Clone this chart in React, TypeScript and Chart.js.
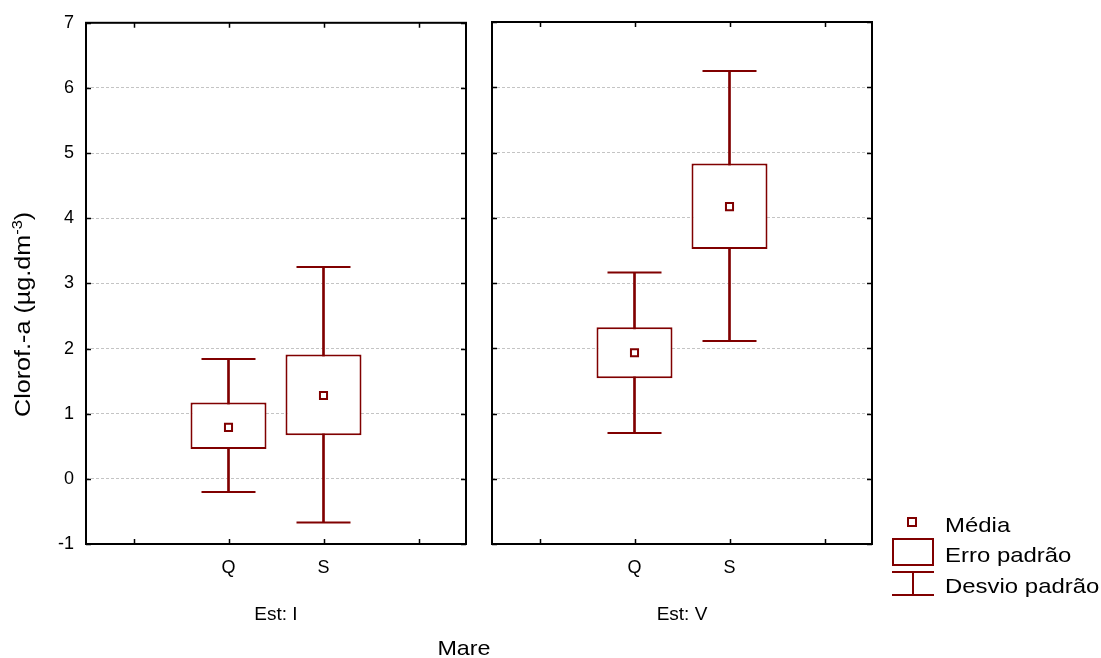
import React, { useEffect, useRef } from 'react';
import { Chart, registerables } from 'chart.js';

Chart.register(...registerables);

// ---------- data ----------
const categories = ['', 'Q', 'S', ''];
const panelTitles = ['Est: I', 'Est: V'];
const yMin = -1;
const yMax = 7;
const yStep = 1;

// Est: I
const meanI = [0.79, 1.28];
const seLowI = [0.46, 0.67];
const seHighI = [1.17, 1.91];
const sdLowI = [-0.2, -0.67];
const sdHighI = [1.84, 3.25];

// Est: V
const meanV = [1.93, 4.17];
const seLowV = [1.54, 3.52];
const seHighV = [2.32, 4.83];
const sdLowV = [0.7, 2.11];
const sdHighV = [3.16, 6.25];

const legendLabels = ['Média', 'Erro padrão', 'Desvio padrão'];
const xTitle = 'Mare';
const yTitleMain = 'Clorof.-a (µg.dm';
const yTitleSup = '-3';
const yTitleEnd = ')';

// ---------- styles ----------
const W = 1101;
const H = 658;
const RED = '#800000';
const FONT = "'Liberation Sans', Arial, sans-serif";

const pad = (arr: any[]) => [null, ...arr, null];

function drawScaledText(
  ctx: CanvasRenderingContext2D,
  text: string,
  x: number,
  y: number,
  size: number,
  align: CanvasTextAlign,
  sx: number
) {
  ctx.save();
  ctx.translate(x, y);
  ctx.scale(sx, 1);
  ctx.font = `${size}px ${FONT}`;
  ctx.textAlign = align;
  ctx.textBaseline = 'alphabetic';
  ctx.fillStyle = '#000';
  ctx.fillText(text, 0, 0);
  ctx.restore();
}

function makeDecor(panelTitle: string, first: boolean) {
  return {
    id: 'panelDecor',
    afterDraw(chart: any) {
      const { ctx, chartArea: a, scales } = chart;
      ctx.save();
      // frame
      ctx.strokeStyle = '#000';
      ctx.lineWidth = 2;
      ctx.strokeRect(a.left, a.top, a.right - a.left, a.bottom - a.top);
      // inner ticks
      ctx.lineWidth = 1.5;
      ctx.beginPath();
      const ys = scales.y;
      ys.ticks.forEach((t: any) => {
        const y = Math.round(ys.getPixelForValue(t.value)) + 0.5;
        ctx.moveTo(a.left, y);
        ctx.lineTo(a.left + 5, y);
        ctx.moveTo(a.right - 5, y);
        ctx.lineTo(a.right, y);
      });
      const xs = scales.x;
      categories.forEach((_, i) => {
        const x = Math.round(xs.getPixelForValue(i)) + 0.5;
        ctx.moveTo(x, a.bottom);
        ctx.lineTo(x, a.bottom - 5);
        ctx.moveTo(x, a.top);
        ctx.lineTo(x, a.top + 5);
      });
      ctx.stroke();

      // panel title
      drawScaledText(ctx, panelTitle, (a.left + a.right) / 2, 620, 19, 'center', 1);

      if (first) {
        // rotated y title with superscript
        ctx.save();
        ctx.translate(29.5, 417);
        ctx.rotate(-Math.PI / 2);
        ctx.scale(1.17, 1);
        ctx.fillStyle = '#000';
        ctx.textBaseline = 'alphabetic';
        ctx.textAlign = 'left';
        ctx.font = `21.5px ${FONT}`;
        ctx.fillText(yTitleMain, 0, 0);
        const w1 = ctx.measureText(yTitleMain).width;
        ctx.font = `14px ${FONT}`;
        ctx.fillText(yTitleSup, w1, -8);
        const w2 = ctx.measureText(yTitleSup).width;
        ctx.font = `21.5px ${FONT}`;
        ctx.fillText(yTitleEnd, w1 + w2, 0);
        ctx.restore();
      } else {
        // x title
        drawScaledText(ctx, xTitle, 464, 655, 21, 'center', 1.11);
        // legend
        ctx.strokeStyle = RED;
        ctx.lineWidth = 2;
        ctx.strokeRect(908, 518, 8, 8);
        ctx.strokeRect(893, 539, 40, 26);
        ctx.beginPath();
        ctx.moveTo(892, 572);
        ctx.lineTo(934, 572);
        ctx.moveTo(892, 595);
        ctx.lineTo(934, 595);
        ctx.moveTo(913, 572);
        ctx.lineTo(913, 595);
        ctx.stroke();
        const baselines = [531.5, 562, 592.5];
        legendLabels.forEach((t, i) => drawScaledText(ctx, t, 945, baselines[i], 21, 'left', 1.14));
      }
      ctx.restore();
    },
  };
}

function buildConfig(
  idx: number,
  mean: number[],
  seLow: number[],
  seHigh: number[],
  sdLow: number[],
  sdHigh: number[]
): any {
  const first = idx === 0;
  return {
    type: 'bar',
    data: {
      labels: categories,
      datasets: [
        {
          type: 'bar',
          data: pad(sdLow.map((l, i) => [l, sdHigh[i]])),
          backgroundColor: RED,
          borderWidth: 0,
          barThickness: 2,
          grouped: false,
          order: 4,
        },
        {
          type: 'line',
          data: pad(sdHigh),
          showLine: false,
          pointStyle: 'line',
          pointRadius: 27,
          pointBorderColor: RED,
          pointBorderWidth: 2,
          order: 3,
        },
        {
          type: 'line',
          data: pad(sdLow),
          showLine: false,
          pointStyle: 'line',
          pointRadius: 27,
          pointBorderColor: RED,
          pointBorderWidth: 2,
          order: 3,
        },
        {
          type: 'bar',
          data: pad(seLow.map((l, i) => [l, seHigh[i]])),
          backgroundColor: '#ffffff',
          borderColor: RED,
          borderWidth: 2,
          borderSkipped: false,
          barPercentage: 0.8,
          categoryPercentage: 1,
          grouped: false,
          order: 2,
        },
        {
          type: 'line',
          data: pad(mean),
          showLine: false,
          pointStyle: 'rect',
          pointRadius: 5,
          pointBackgroundColor: '#ffffff',
          pointBorderColor: RED,
          pointBorderWidth: 2,
          order: 1,
        },
      ],
    },
    options: {
      responsive: false,
      animation: false,
      events: [],
      layout: {
        autoPadding: false,
        padding: first
          ? { left: 0, top: 22, right: W - 466, bottom: 0 }
          : { left: 480, top: 22, right: W - 872, bottom: 0 },
      },
      plugins: {
        legend: { display: false },
        tooltip: { enabled: false },
      },
      scales: {
        x: {
          type: 'category',
          offset: true,
          grid: { display: false, drawTicks: false },
          border: { display: false },
          ticks: {
            color: '#000',
            font: { family: FONT, size: 18 },
            padding: 13,
            maxRotation: 0,
            autoSkip: false,
          },
          afterFit: (s: any) => {
            s.height = 114;
          },
        },
        y: {
          min: yMin,
          max: yMax,
          grid: { color: '#c4c4c4', lineWidth: 1, drawTicks: false },
          border: { display: false, dash: [3, 2] },
          ticks: {
            display: first,
            stepSize: yStep,
            color: '#000',
            font: { family: FONT, size: 18 },
            padding: 12,
          },
          afterFit: (s: any) => {
            s.width = first ? 86 : 12;
          },
        },
      },
    },
    plugins: [makeDecor(panelTitles[idx], first)],
  };
}

export default function App() {
  const ref1 = useRef<HTMLCanvasElement>(null);
  const ref2 = useRef<HTMLCanvasElement>(null);

  useEffect(() => {
    const c1 = new Chart(ref1.current as HTMLCanvasElement, buildConfig(0, meanI, seLowI, seHighI, sdLowI, sdHighI));
    const c2 = new Chart(ref2.current as HTMLCanvasElement, buildConfig(1, meanV, seLowV, seHighV, sdLowV, sdHighV));
    return () => {
      c1.destroy();
      c2.destroy();
    };
  }, []);

  const canvasStyle: React.CSSProperties = {
    position: 'absolute',
    left: 0,
    top: 0,
    width: W,
    height: H,
    display: 'block',
  };

  return (
    <div style={{ position: 'absolute', left: 0, top: 0, width: W, height: H, background: '#fff', overflow: 'hidden' }}>
      <canvas ref={ref1} width={W} height={H} style={canvasStyle} />
      <canvas ref={ref2} width={W} height={H} style={canvasStyle} />
    </div>
  );
}
